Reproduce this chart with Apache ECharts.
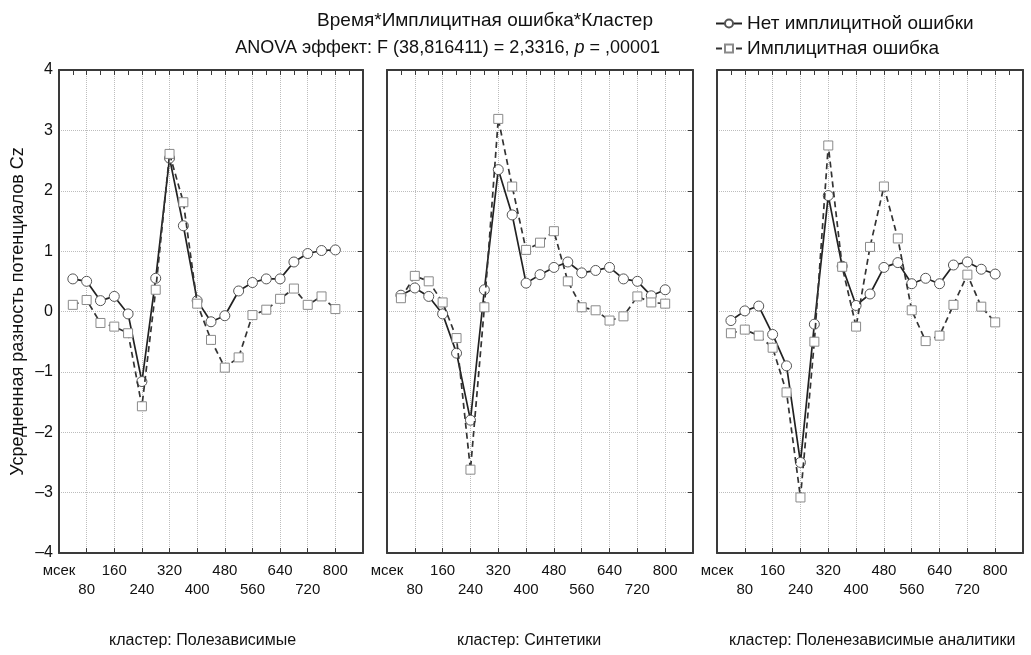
<!DOCTYPE html>
<html>
<head>
<meta charset="utf-8">
<script src="https://cdn.jsdelivr.net/npm/echarts@6/dist/echarts.min.js"></script>
<style>
html, body { margin: 0; padding: 0; background: #fff; }
#main { width: 1031px; height: 655px; }
</style>
</head>
<body>
<div id="main"></div>
<script>
var times = [40, 80, 120, 160, 200, 240, 280, 320, 360, 400, 440, 480, 520, 560, 600, 640, 680, 720, 760, 800];

// Полезависимые
var noErr1 = [0.54, 0.50, 0.18, 0.25, -0.04, -1.16, 0.55, 2.54, 1.42, 0.18, -0.17, -0.07, 0.34, 0.48, 0.54, 0.54, 0.82, 0.96, 1.01, 1.02];
var err1 = [0.11, 0.19, -0.19, -0.25, -0.36, -1.57, 0.36, 2.61, 1.81, 0.13, -0.47, -0.93, -0.76, -0.06, 0.03, 0.21, 0.38, 0.11, 0.25, 0.04];
// Синтетики
var noErr2 = [0.27, 0.39, 0.25, -0.04, -0.69, -1.80, 0.36, 2.35, 1.60, 0.47, 0.61, 0.73, 0.82, 0.64, 0.68, 0.73, 0.54, 0.50, 0.26, 0.36];
var err2 = [0.22, 0.59, 0.50, 0.15, -0.44, -2.62, 0.07, 3.19, 2.07, 1.02, 1.14, 1.33, 0.50, 0.07, 0.02, -0.15, -0.08, 0.25, 0.15, 0.13];
// Поленезависимые аналитики
var noErr3 = [-0.15, 0.01, 0.09, -0.38, -0.90, -2.50, -0.21, 1.92, 0.75, 0.10, 0.29, 0.73, 0.81, 0.46, 0.55, 0.46, 0.77, 0.82, 0.70, 0.62];
var err3 = [-0.36, -0.30, -0.40, -0.60, -1.34, -3.08, -0.50, 2.75, 0.74, -0.25, 1.07, 2.07, 1.21, 0.02, -0.49, -0.40, 0.11, 0.61, 0.08, -0.18];

var clusters = ['кластер: Полезависимые', 'кластер: Синтетики', 'кластер: Поленезависимые аналитики'];
var yTicks = ['–4', '–3', '–2', '–1', '0', '1', '2', '3', '4'];

var FONT = 'Liberation Sans, Arial, sans-serif';
var nameNo = 'Нет имплицитной ошибки';
var nameErr = 'Имплицитная ошибка';

var myChart = echarts.init(document.getElementById('main'));

var grids = [
    { left: 59, width: 304, top: 70, height: 483 },
    { left: 387, width: 306, top: 70, height: 483 },
    { left: 717, width: 306, top: 70, height: 483 }
];
var clusterLeft = [104, 452, 724];

var frameLine = { show: true, onZero: false, lineStyle: { color: '#3a3a3a', width: 2 } };
var gridLine = { show: true, lineStyle: { color: '#bdbdbd', type: 'dotted', width: 1 } };

var xAxes = [], yAxes = [], series = [], titles = [];

titles.push({
    text: 'Время*Имплицитная ошибка*Кластер',
    right: 373, top: 6,
    textStyle: { fontFamily: FONT, fontSize: 19, fontWeight: 'normal', color: '#111' }
});
titles.push({
    text: 'ANOVA эффект: F (38,816411) = 2,3316, {i|p} = ,00001',
    right: 366, top: 34,
    textStyle: {
        fontFamily: FONT, fontSize: 18, fontWeight: 'normal', color: '#111',
        rich: { i: { fontFamily: FONT, fontSize: 18, fontStyle: 'italic', color: '#111' } }
    }
});

var noData = [noErr1, noErr2, noErr3];
var errData = [err1, err2, err3];

for (var g = 0; g < 3; g++) {
    // bottom axis with labels
    xAxes.push({
        type: 'value', gridIndex: g, position: 'bottom',
        min: 0, max: 880, interval: 80,
        axisLine: frameLine,
        axisTick: { show: true, inside: true, length: 5, lineStyle: { color: '#3a3a3a', width: 1 } },
        splitLine: gridLine,
        axisLabel: {
            show: true, margin: 8, fontFamily: FONT, fontSize: 15, color: '#111', lineHeight: 19,
            showMaxLabel: true, showMinLabel: true,
            formatter: function (v) {
                if (v === 0) return 'мсек';
                if (v > 800) return '';
                return (v / 80) % 2 === 1 ? '\n' + v : String(v);
            }
        }
    });
    // top axis: ticks every 40
    xAxes.push({
        type: 'value', gridIndex: g, position: 'top',
        min: 0, max: 880, interval: 40,
        axisLine: frameLine,
        axisTick: { show: true, inside: true, length: 5, lineStyle: { color: '#3a3a3a', width: 1 } },
        splitLine: { show: false },
        axisLabel: { show: false }
    });
    yAxes.push({
        type: 'value', gridIndex: g, position: 'left',
        min: -4, max: 4, interval: 1,
        axisLine: frameLine,
        axisTick: { show: false },
        splitLine: gridLine,
        name: g === 0 ? 'Усредненная разность потенциалов Cz' : '',
        nameLocation: 'middle', nameGap: 32, nameRotate: 90,
        nameTextStyle: { fontFamily: FONT, fontSize: 18, color: '#111' },
        axisLabel: {
            show: g === 0, margin: 6, fontFamily: FONT, fontSize: 16, color: '#111',
            formatter: function (v) { return yTicks[v + 4]; }
        }
    });
    yAxes.push({
        type: 'value', gridIndex: g, position: 'right',
        min: -4, max: 4, interval: 1,
        axisLine: frameLine,
        axisTick: { show: true, inside: true, length: 5, lineStyle: { color: '#3a3a3a', width: 1 } },
        splitLine: { show: false },
        axisLabel: { show: false }
    });

    series.push({
        name: nameNo, type: 'line',
        xAxisIndex: g * 2, yAxisIndex: g * 2,
        data: times.map(function (t, i) { return [t, noData[g][i]]; }),
        symbol: 'circle', symbolSize: 10,
        lineStyle: { color: '#222', width: 1.7 },
        itemStyle: { color: '#fff', borderColor: '#555', borderWidth: 1 },
        z: 3
    });
    series.push({
        name: nameErr, type: 'line',
        xAxisIndex: g * 2, yAxisIndex: g * 2,
        data: times.map(function (t, i) { return [t, errData[g][i]]; }),
        symbol: 'rect', symbolSize: 9,
        lineStyle: { color: '#333', width: 1.7, type: [6, 4] },
        itemStyle: { color: '#fff', borderColor: '#8a8a8a', borderWidth: 1 },
        z: 4
    });

    titles.push({
        text: clusters[g],
        left: clusterLeft[g], top: 628,
        textStyle: { fontFamily: FONT, fontSize: 16, fontWeight: 'normal', color: '#111' }
    });
}

option = {
    backgroundColor: '#fff',
    animation: false,
    title: titles,
    legend: {
        orient: 'vertical',
        left: 710, top: 9,
        itemWidth: 26, itemHeight: 10, itemGap: 6,
        textStyle: { fontFamily: FONT, fontSize: 19, color: '#111' },
        data: [nameNo, nameErr]
    },
    grid: grids,
    xAxis: xAxes,
    yAxis: yAxes,
    series: series
};

myChart.setOption(option);
window.onresize = myChart.resize;
</script>
</body>
</html>
